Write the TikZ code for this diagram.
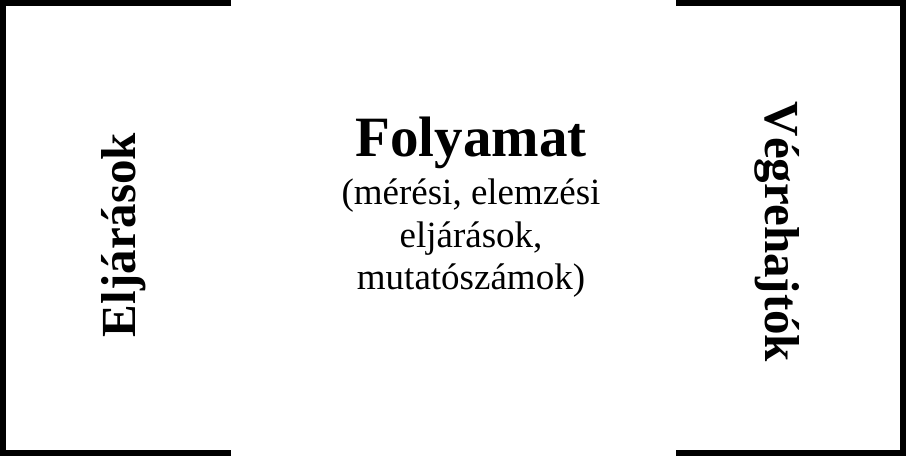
\documentclass[tikz,border=0pt]{standalone}
\usepackage{fontspec}
\setmainfont{Liberation Serif}
\usepackage{tikz}

\begin{document}
\begin{tikzpicture}[x=1pt,y=1pt,
  bracket/.style={line width=6pt,black,line join=miter},
  sidelabel/.style={font=\fontsize{49}{56}\selectfont\bfseries,anchor=base,inner sep=0pt},
  titlelabel/.style={font=\fontsize{57}{66}\selectfont\bfseries,anchor=base,inner sep=0pt},
  desclabel/.style={font=\fontsize{37}{43}\selectfont,align=center,anchor=base,inner sep=0pt}]

  \useasboundingbox (0,0) rectangle (906,456);

  % left and right brackets
  \draw[bracket] (231,453) -- (3,453) -- (3,3) -- (231,3);
  \draw[bracket] (676,453) -- (903,453) -- (903,3) -- (676,3);

  % side labels
  \node[sidelabel,rotate=90] (eljarasok) at (135,221) {Eljárások};
  \node[sidelabel,rotate=-90] (vegrehajtok) at (765,224) {Végrehajtók};

  % middle text
  \node[titlelabel] (folyamat) at (471,299) {Folyamat};
  \node[desclabel] (leiras) at (471,166) {(mérési, elemzési\\eljárások,\\mutatószámok)};

\end{tikzpicture}
\end{document}
